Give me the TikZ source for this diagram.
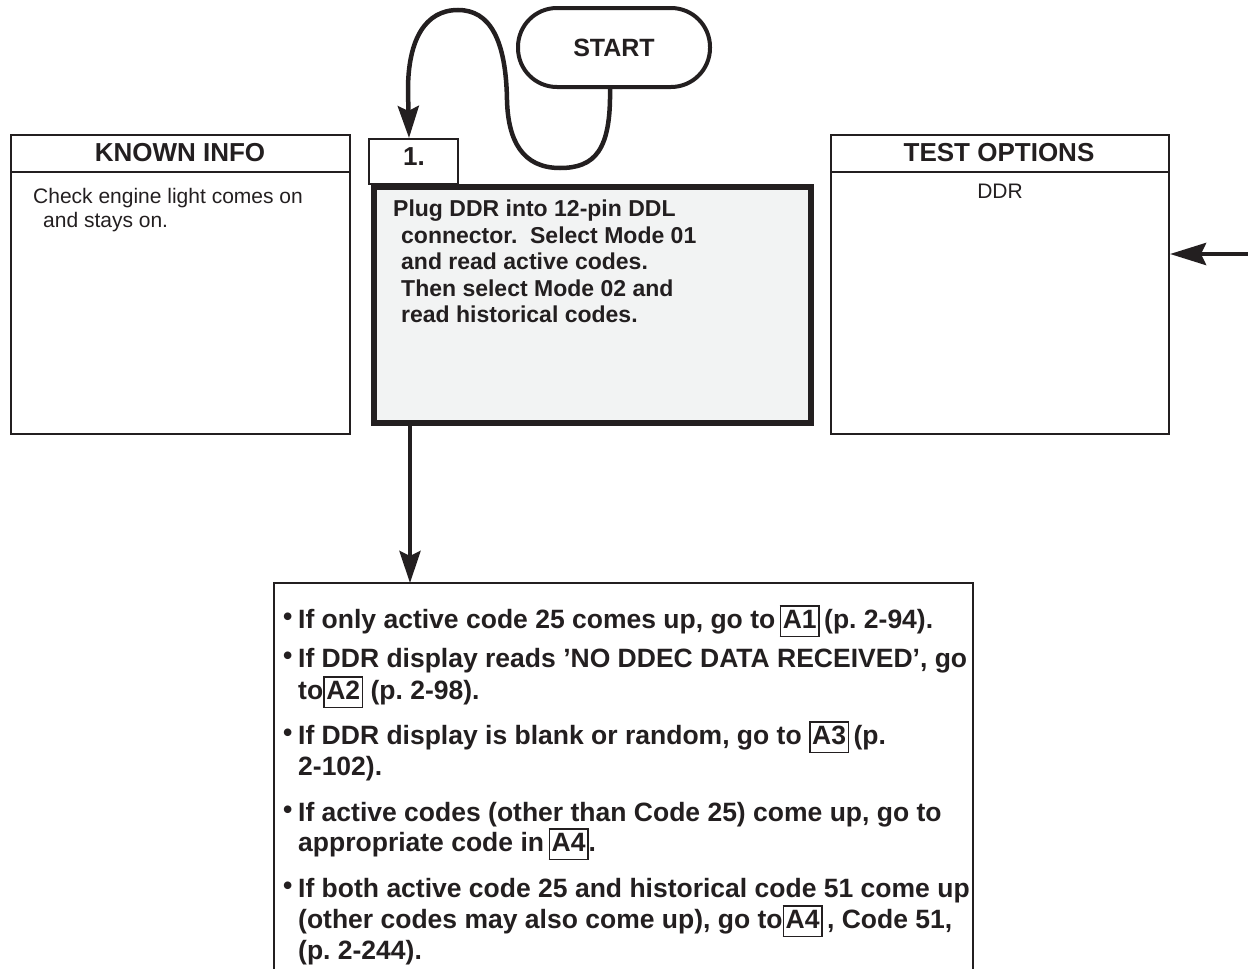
\documentclass[tikz,border=0pt]{standalone}
\usepackage{fontspec}
\setmainfont{Liberation Sans}
\usetikzlibrary{arrows.meta}
\definecolor{ink}{HTML}{231F20}
\definecolor{boxfill}{HTML}{F2F3F3}
\newcommand\refbx[1]{{\setlength\fboxsep{1.5pt}\setlength\fboxrule{1.6pt}\fbox{\rule[-6pt]{0pt}{26pt}#1}}}
\frenchspacing
\begin{document}
\begin{tikzpicture}[x=1pt,y=-1pt,
  thinbox/.style={draw=ink, line width=2pt, inner sep=0},
  hdr/.style={font=\fontsize{26}{30}\selectfont\bfseries, text=ink, inner sep=0},
  body/.style={font=\fontsize{21}{24}\selectfont, text=ink, anchor=base west, inner sep=0},
  bonetxt/.style={font=\fontsize{23}{26}\selectfont\bfseries, text=ink, anchor=base west, inner sep=0},
  btxt/.style={font=\fontsize{26.5}{30}\selectfont\bfseries, text=ink, anchor=base west, inner sep=0},
  arr/.style={line width=4.5pt, draw=ink, -{Stealth[length=32pt,width=21pt,inset=5pt]}}]
\useasboundingbox (0,0) rectangle (1248,969);

% KNOWN INFO
\node[thinbox, minimum width=339pt, minimum height=299pt, anchor=north west] (known) at (10,134) {};
\coordinate (hline) at (0,172);
\draw[thinbox] (known.west |- hline) -- (known.east |- hline);
\node[hdr] (knownT) at (180,153) {KNOWN INFO};
\node[body] (known1) at (33,203) {Check engine light comes on};
\node[body] (known2) at (43,227) {and stays on.};

% TEST OPTIONS
\node[thinbox, minimum width=338pt, minimum height=299pt, anchor=north west] (test) at (830,134) {};
\draw[thinbox] (test.west |- hline) -- (test.east |- hline);
\node[hdr] (testT) at (999,153) {TEST OPTIONS};
\node[body, anchor=base] (testD) at (1000,198) {DDR};

% Box 1
\node[draw=ink, line width=5.5pt, fill=boxfill, minimum width=437pt, minimum height=236pt, anchor=north west, inner sep=0] (b1) at (371,184) {};
\node[thinbox, fill=white, minimum width=89pt, minimum height=45pt, anchor=north west] (tab) at (368,138) {};
\node[hdr] (tabT) at (414,157) {1.};
\node[bonetxt] (l1) at (393,216) {Plug DDR into 12-pin DDL};
\node[bonetxt] (l2) at (401,243) {connector.\hspace{0.55em}Select Mode 01};
\node[bonetxt] (l3) at (401,269) {and read active codes.};
\node[bonetxt] (l4) at (401,296) {Then select Mode 02 and};
\node[bonetxt] (l5) at (401,322) {read historical codes.};

% START
\node[draw=ink, line width=4pt, rounded corners=39pt, minimum width=192pt, minimum height=79pt,
      font=\fontsize{25}{30}\selectfont\bfseries, text=ink] (start) at (614,47.5) {START};
\draw[arr] ([xshift=-4pt]start.south) .. controls (611,150) and (595,168) .. (560,168)
   .. controls (522,168) and (508,140) .. (507,100)
   .. controls (506,40) and (490,10) .. (458,10)
   .. controls (425,10) and (408,40) .. (408,90)
   -- ([xshift=-4.5pt]tab.north);

% bottom box
\coordinate (bbin) at (410,583);
\coordinate (bbl) at (274,969);
\coordinate (bbr) at (973,969);
\draw[thinbox] (bbl) -- (bbl |- bbin) -- (bbr |- bbin) -- (bbr);
\draw[arr] (b1.south -| bbin) -- (bbin);

% right arrow
\coordinate (rin) at (1248,254);
\draw[arr, -{Stealth[length=36pt,width=22pt,inset=5pt]}] (rin) -- (rin -| test.east);

% bullets
\node[btxt] (bu1) at (283,628) {\raisebox{3pt}{•}};
\node[btxt] (t1) at (298,628) {If only active code 25 comes up, go to\,\refbx{A1}\,(p. 2-94).};
\node[btxt] (bu2) at (283,667) {\raisebox{3pt}{•}};
\node[btxt] (t2) at (298,667) {If DDR display reads ’NO DDEC DATA RECEIVED’, go};
\node[btxt] (t2b) at (298,699) {to\refbx{A2} (p. 2-98).};
\node[btxt] (bu3) at (283,744) {\raisebox{3pt}{•}};
\node[btxt] (t3) at (298,744) {If DDR display is blank or random, go to \refbx{A3}\,(p.};
\node[btxt] (t3b) at (298,775) {2-102).};
\node[btxt] (bu4) at (283,821) {\raisebox{3pt}{•}};
\node[btxt] (t4) at (298,821) {If active codes (other than Code 25) come up, go to};
\node[btxt] (t4b) at (298,851) {appropriate code in\,\refbx{A4}.};
\node[btxt] (bu5) at (283,897) {\raisebox{3pt}{•}};
\node[btxt] (t5) at (298,897) {If both active code 25 and historical code 51 come up};
\node[btxt] (t5b) at (298,928) {(other codes may also come up), go to\refbx{A4}\,, Code 51,};
\node[btxt] (t5c) at (298,959) {(p. 2-244).};
\end{tikzpicture}
\end{document}
